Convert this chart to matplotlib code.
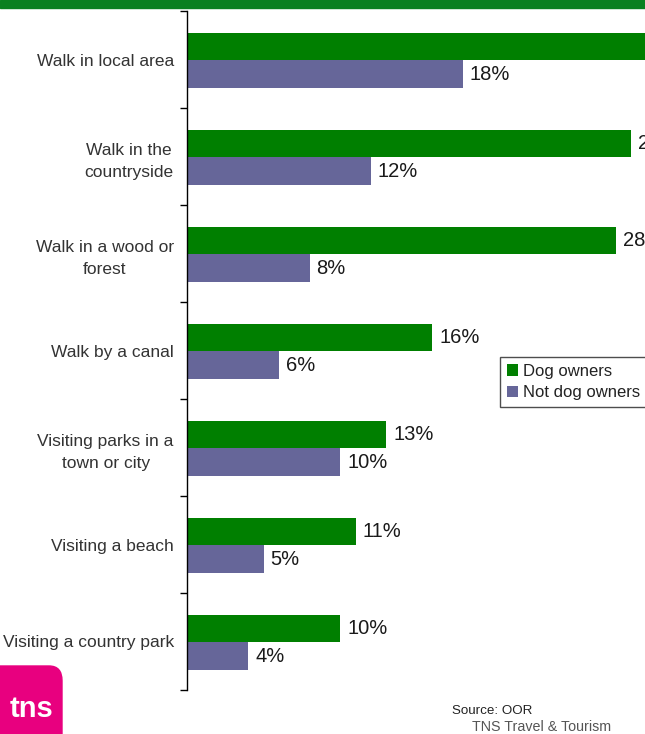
import numpy as np
import matplotlib
matplotlib.use('Agg')
import matplotlib.pyplot as plt
from matplotlib.patches import Rectangle, FancyBboxPatch

plt.rcParams['font.family'] = ['Liberation Sans', 'DejaVu Sans']

activities = ['Walk in local area', 'Walk in the\ncountryside', 'Walk in a wood or\nforest',
              'Walk by a canal', 'Visiting parks in a\ntown or city', 'Visiting a beach',
              'Visiting a country park']
dog_owners = [35, 29, 28, 16, 13, 11, 10]
not_dog_owners = [18, 12, 8, 6, 10, 5, 4]

green = '#007f00'
purple = '#666699'

W, H = 645, 734
fig = plt.figure(figsize=(W / 100, H / 100), dpi=100)
fig.patch.set_facecolor('white')

# axes run off the right edge on purpose, the long bars get cut
ax = fig.add_axes([187 / W, 1 - 690 / H, 613 / W, 679 / H])

y = np.arange(len(activities))
h = 0.28
ax.barh(y - h / 2 + 0.01, dog_owners, height=h, color=green, label='Dog owners')
ax.barh(y + h / 2 + 0.01, not_dog_owners, height=h, color=purple, label='Not dog owners')

for i in range(len(activities)):
    ax.text(dog_owners[i] + 0.45, y[i] - h / 2 + 0.01, '%d%%' % dog_owners[i],
            va='center', ha='left', fontsize=14.5, color='#1a1a1a')
    ax.text(not_dog_owners[i] + 0.45, y[i] + h / 2 + 0.01, '%d%%' % not_dog_owners[i],
            va='center', ha='left', fontsize=14.5, color='#1a1a1a')

ax.set_xlim(0, 40)
ax.set_ylim(len(activities) - 0.5, -0.5)
ax.set_yticks(y)
ax.set_yticklabels(activities, fontsize=12.5, color='#333333', multialignment='center',
                   linespacing=1.55)
ax.tick_params(axis='y', which='major', length=0, pad=9.5)
ax.set_yticks(np.arange(-0.5, len(activities), 1), minor=True)
ax.tick_params(axis='y', which='minor', length=5, width=1, color='black')
ax.set_xticks([])
for s in ['top', 'right', 'bottom']:
    ax.spines[s].set_visible(False)
ax.spines['left'].set_color('black')
ax.spines['left'].set_linewidth(1)

leg = fig.legend(loc='upper left', bbox_to_anchor=(500 / W, 1 - 357 / H),
                 fontsize=12, frameon=True, fancybox=False, handlelength=0.7,
                 handleheight=0.7, handletextpad=0.3, labelspacing=0.4,
                 borderpad=0.4, borderaxespad=0)
leg.get_frame().set_edgecolor('#222222')
leg.get_frame().set_linewidth(1)
for t in leg.get_texts():
    t.set_color('#222222')

# green band along the top
fig.add_artist(Rectangle((0, 1 - 8 / H), 1, 8 / H, transform=fig.transFigure,
                         color='#0a8020', zorder=5))

# logo in the bottom left corner
fig.add_artist(FancyBboxPatch((-14 / W, -20 / H), 76 / W, 88 / H,
                              boxstyle='round,pad=0,rounding_size=0.02',
                              transform=fig.transFigure, color='#e8007f', zorder=5))
fig.text(10 / W, 1 - 709 / H, 'tns', color='white', fontsize=21, fontweight='bold',
         va='center', ha='left', zorder=6)

fig.text(452 / W, 1 - 711 / H, 'Source: OOR', fontsize=9.6, color='#222222',
         va='center', ha='left')
fig.text(472 / W, 1 - 727 / H, 'TNS Travel & Tourism', fontsize=10.3, color='#555555',
         va='center', ha='left')

fig.savefig('out.png', dpi=100)
